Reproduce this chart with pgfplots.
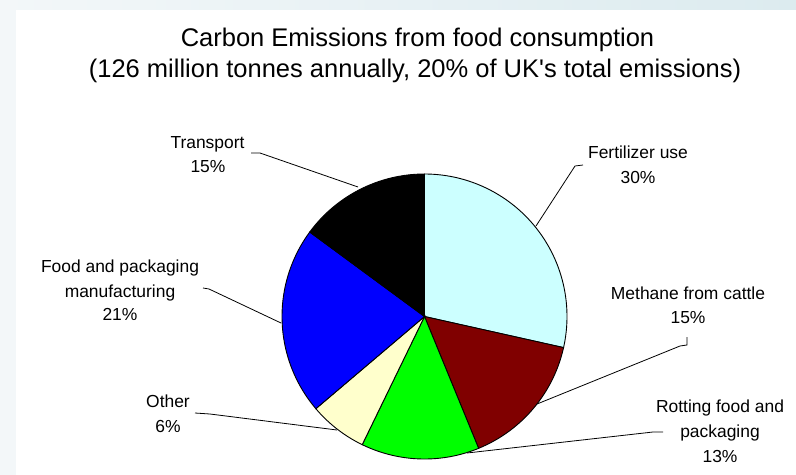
\documentclass[border=0pt]{standalone}
\usepackage{pgfplots}
\usepackage{pgfplotstable}
\pgfplotsset{compat=1.18}
\usepackage{fontspec}
\setmainfont{Liberation Sans}
\definecolor{fert}{HTML}{CCFFFF}
\definecolor{meth}{HTML}{800000}
\definecolor{rot}{HTML}{00FF00}
\definecolor{oth}{HTML}{FFFFCC}
\definecolor{food}{HTML}{0000FF}
\definecolor{trans}{HTML}{000000}
\definecolor{bgl}{HTML}{F3F7F9}
\definecolor{bgr}{HTML}{DCEBEF}
\pgfplotstableread{
label value color
Fertilizer 28.5 fert
Methane 15.3 meth
Rotting 13.4 rot
Other 6.6 oth
Food 21.3 food
Transport 14.9 trans
}\pietable
\begin{document}
\begin{tikzpicture}
\begin{axis}[scale only axis, width=796bp, height=475bp,
  xmin=0, xmax=796, ymin=0, ymax=475, y dir=reverse,
  axis lines=none, clip=false]
\fill[white] (axis cs:0,0) rectangle (axis cs:796,475);
\fill[left color=bgl, right color=bgr] (axis cs:0,0) rectangle (axis cs:796,10);
\fill[bgl] (axis cs:0,0) rectangle (axis cs:16,475);
\gdef\cum{0}
\pgfplotsinvokeforeach{0,...,5}{
  \pgfplotstablegetelem{#1}{value}\of\pietable
  \pgfmathsetmacro\val{\pgfplotsretval}
  \pgfplotstablegetelem{#1}{color}\of\pietable
  \xdef\col{\pgfplotsretval}
  \pgfmathsetmacro\aone{90-3.6*(\cum+\val)}
  \pgfmathsetmacro\atwo{90-3.6*\cum}
  \pgfmathsetmacro\newcum{\cum+\val}
  \xdef\cum{\newcum}
  \edef\temp{\noexpand\addplot[fill=\col, draw=black, line width=0.9bp, domain=\aone:\atwo, samples=80] ({424.5+142.5*cos(x)},{316.5-142.5*sin(x)}) -- (axis cs:424.5,316.5) -- cycle;}
  \temp
}
% leader lines
\draw[line width=0.8bp] (axis cs:251,153) -- (axis cs:260,153) -- (axis cs:358,187);
\draw[line width=0.8bp] (axis cs:203,288) -- (axis cs:209,289) -- (axis cs:281,323);
\draw[line width=0.8bp] (axis cs:195,413) -- (axis cs:210,414) -- (axis cs:337,430);
\draw[line width=0.8bp] (axis cs:583,165) -- (axis cs:575,166) -- (axis cs:536,226);
\draw[line width=0.8bp] (axis cs:687,337) -- (axis cs:687,345) -- (axis cs:680,346) -- (axis cs:537,404);
\draw[line width=0.8bp] (axis cs:663,432) -- (axis cs:653,432) -- (axis cs:467,453);
% title
\begin{scope}[every node/.style={anchor=base, inner sep=0pt, font=\fontsize{25.6}{31}\selectfont}]
\node at (axis cs:417.5,47) {Carbon Emissions from food consumption};
\node at (axis cs:415,78) {(126 million tonnes annually, 20\% of UK\textquotesingle s total emissions)};
\end{scope}
% labels
\begin{scope}[every node/.style={anchor=base, inner sep=0pt, font=\fontsize{17.5}{25}\selectfont}]
\node at (axis cs:207.5,148) {Transport};
\node at (axis cs:208,172) {15\%};
\node at (axis cs:120,272) {Food and packaging};
\node at (axis cs:120,297) {manufacturing};
\node at (axis cs:120,320) {21\%};
\node at (axis cs:168,407) {Other};
\node at (axis cs:168,432) {6\%};
\node at (axis cs:638,158) {Fertilizer use};
\node at (axis cs:638,183) {30\%};
\node at (axis cs:688,299) {Methane from cattle};
\node at (axis cs:688,323) {15\%};
\node at (axis cs:720,412) {Rotting food and};
\node at (axis cs:720,437) {packaging};
\node at (axis cs:720,462) {13\%};
\end{scope}
\end{axis}
\end{tikzpicture}
\end{document}
